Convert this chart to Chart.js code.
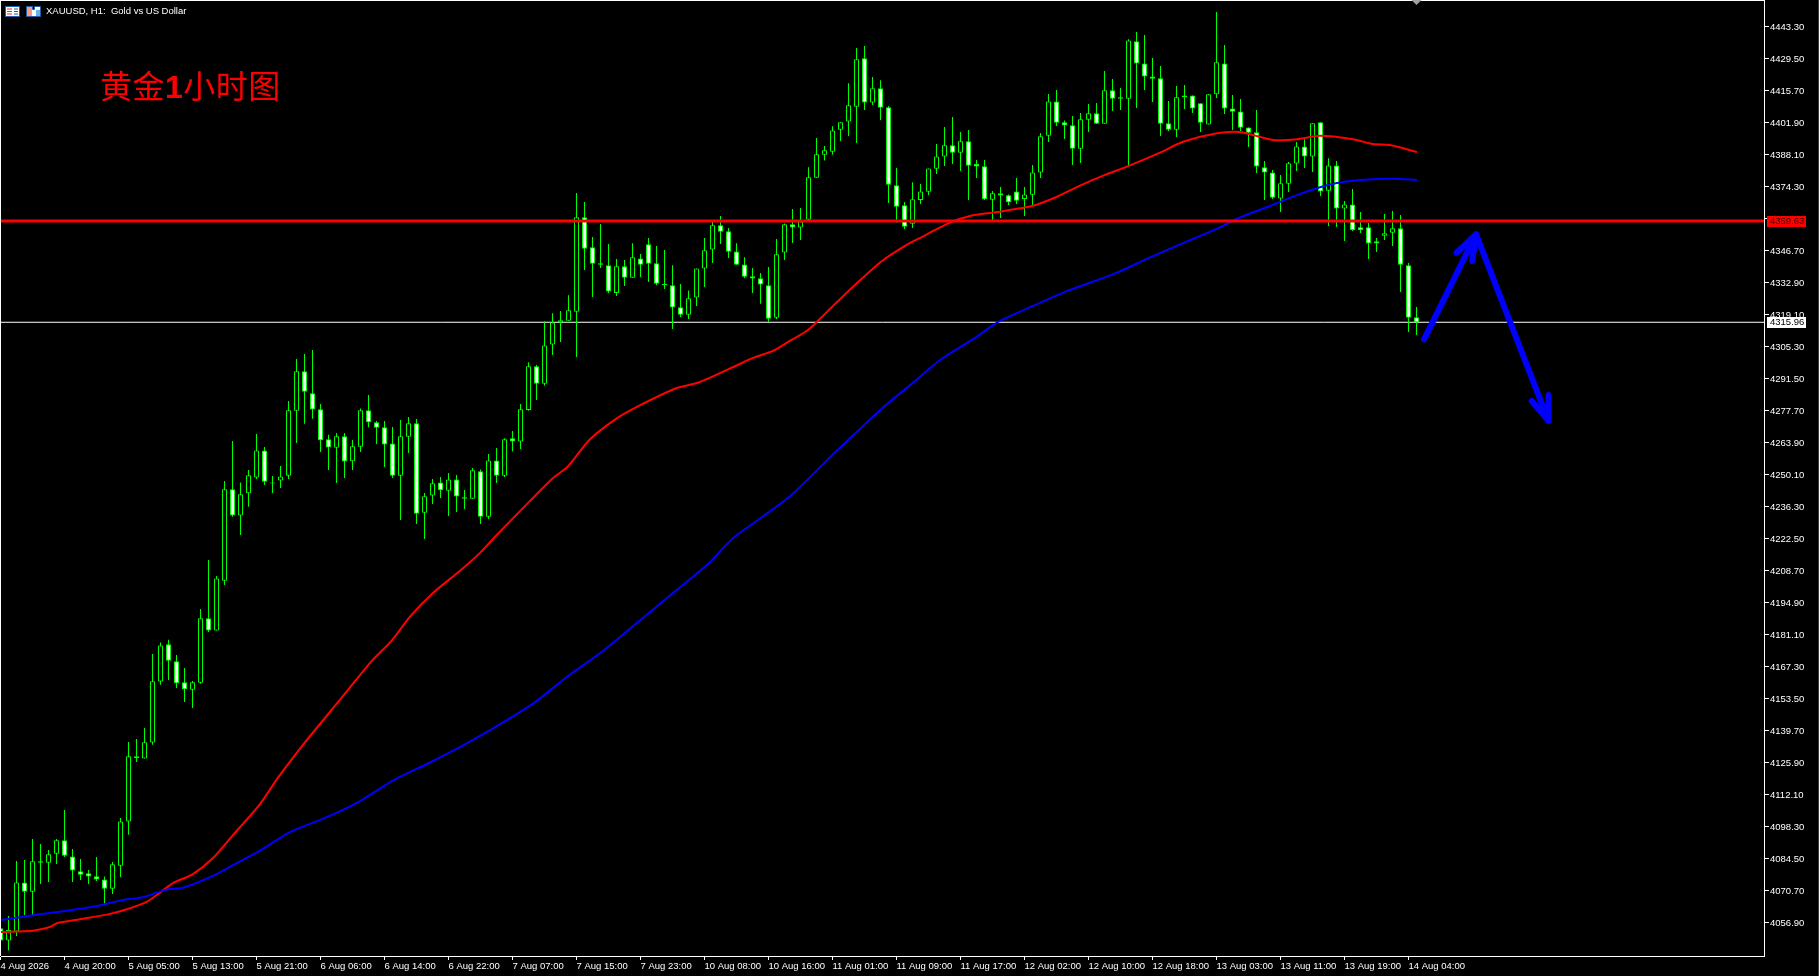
<!DOCTYPE html>
<html>
<head>
<meta charset="utf-8">
<title>XAUUSD H1</title>
<script src="https://cdn.jsdelivr.net/npm/chart.js@4/dist/chart.umd.min.js"></script>
<style>
  html, body { margin: 0; padding: 0; background: #000; overflow: hidden; }
  #wrap { position: relative; width: 1819px; height: 976px; }
  canvas { display: block; }
  #head { position: absolute; left: 46px; top: 5px; color: #fff; font: 9.5px/12px "Liberation Sans", sans-serif; white-space: pre; }
  #icons { position: absolute; left: 5px; top: 5px; }
  #note { position: absolute; left: 100px; top: 64px; color: #f00; font: 400 32px/40px "Noto Sans CJK SC", sans-serif; white-space: pre; letter-spacing: 0.5px; }
  #note b { font-family: "Liberation Sans", sans-serif; font-weight: 700; }
</style>
</head>
<body>
<div id="wrap">
  <canvas id="chart" width="1819" height="976"></canvas>
  <svg id="icons" width="38" height="13">
    <rect x="0.5" y="1.5" width="14" height="10" fill="#fff" stroke="#1f5fa8"/>
    <path d="M2 4h5M2 6.5h5M2 9h5" stroke="#e33"/><path d="M9 4h4M9 6.5h4M9 9h4" stroke="#1f5fa8"/>
    <path d="M21.5 1.5h6v3h2v-3h6v10h-14z" fill="#fff" stroke="#1f5fa8"/>
    <rect x="22" y="2" width="5" height="9" fill="#f59a8a"/><rect x="31" y="5" width="4" height="6" fill="#6ab0e8"/>
  </svg>
  <div id="head">XAUUSD, H1:  Gold vs US Dollar</div>
  <div id="note">黄金<b>1</b>小时图</div>
</div>
<script>
const opens = [4054.6,4049.3,4053.2,4074.4,4070.4,4083.5,4082.9,4086.8,4092.6,4085.6,
  4079.2,4078.3,4077.0,4075.7,4071.7,4081.6,4100.7,4128.8,4127.8,4134.7,
  4161.0,4177.1,4169.8,4160.7,4157.5,4160.5,4188.3,4183.0,4204.5,4243.9,
  4232.6,4242.2,4249.0,4260.7,4246.9,4247.7,4249.8,4277.8,4294.8,4285.3,
  4278.4,4265.5,4261.9,4266.8,4256.0,4262.3,4278.0,4272.8,4270.7,4263.7,
  4249.8,4266.6,4272.4,4233.8,4241.2,4246.9,4243.3,4248.2,4240.5,4239.9,
  4251.7,4232.1,4256.4,4249.8,4265.9,4264.5,4278.1,4297.0,4289.5,4306.4,
  4315.9,4316.6,4320.5,4361.2,4348.3,4341.4,4340.5,4328.6,4340.1,4335.2,
  4343.5,4349.6,4341.4,4332.5,4331.9,4322.4,4319.2,4326.6,4339.1,4347.3,
  4357.8,4355.2,4346.5,4340.9,4335.8,4334.9,4331.9,4317.9,4346.0,4358.2,
  4356.8,4360.2,4378.3,4388.2,4389.5,4399.0,4402.5,4408.9,4429.8,4410.7,
  4416.9,4408.7,4375.0,4366.4,4358.5,4368.7,4372.3,4382.2,4387.4,4392.3,
  4389.1,4394.0,4384.2,4383.2,4368.8,4371.6,4370.7,4372.4,4369.1,4371.0,
  4380.5,4396.4,4411.2,4402.2,4400.9,4390.8,4403.3,4406.1,4401.6,4416.0,
  4413.0,4412.4,4437.1,4427.6,4422.0,4421.2,4401.8,4399.0,4413.8,4413.8,
  4410.4,4401.2,4414.3,4427.6,4408.2,4406.9,4400.0,4397.9,4382.8,4380.6,
  4369.3,4375.7,4384.4,4391.8,4387.4,4402.2,4372.7,4383.6,4365.0,4366.8,
  4356.9,4356.9,4350.9,4353.3,4354.6,4356.5,4340.5,4318.1];
const highs = [4056.0,4059.9,4083.6,4084.1,4093.1,4091.0,4088.4,4093.1,4105.6,4088.8,
  4084.5,4079.8,4085.4,4076.9,4083.2,4102.2,4134.9,4136.2,4141.0,4172.9,
  4177.9,4179.0,4172.5,4166.9,4161.3,4192.3,4213.4,4206.5,4247.5,4264.8,
  4246.9,4252.3,4267.8,4262.2,4249.7,4254.0,4282.0,4300.1,4302.3,4304.0,
  4280.7,4267.4,4268.2,4268.2,4265.2,4278.8,4284.6,4273.4,4273.4,4270.8,
  4273.8,4275.1,4274.2,4242.3,4248.4,4249.2,4251.0,4250.1,4243.6,4253.1,
  4252.5,4259.2,4261.7,4265.9,4269.1,4280.7,4298.7,4297.5,4316.4,4319.8,
  4320.8,4327.6,4371.7,4367.8,4352.7,4358.3,4349.7,4343.2,4342.8,4350.0,
  4345.4,4352.3,4348.9,4347.1,4340.6,4332.5,4329.7,4339.2,4352.3,4359.3,
  4361.8,4356.6,4350.0,4344.0,4339.4,4337.2,4339.8,4351.9,4358.6,4364.8,
  4365.2,4382.8,4395.4,4392.0,4400.5,4402.2,4419.0,4434.2,4435.1,4421.7,
  4420.3,4409.2,4382.5,4367.8,4376.3,4375.6,4382.3,4392.8,4400.2,4404.5,
  4398.0,4398.9,4385.9,4385.9,4372.6,4374.3,4371.1,4378.2,4374.3,4383.8,
  4397.6,4414.4,4416.1,4403.0,4404.9,4406.2,4410.1,4410.5,4424.3,4420.9,
  4417.0,4438.0,4441.1,4439.9,4429.9,4426.5,4411.4,4417.9,4418.3,4413.8,
  4410.4,4414.3,4449.8,4435.5,4414.0,4412.2,4400.0,4407.5,4385.5,4381.6,
  4379.5,4385.1,4393.7,4394.9,4401.8,4402.2,4386.7,4385.5,4368.3,4373.4,
  4363.5,4358.8,4352.3,4362.6,4363.9,4362.2,4341.5,4322.5];
const lows = [4047.0,4045.0,4051.3,4060.3,4060.3,4073.7,4074.6,4082.3,4085.4,4074.6,
  4075.4,4073.7,4075.0,4065.1,4069.4,4076.7,4094.9,4126.3,4127.8,4133.8,
  4159.6,4161.7,4158.2,4152.2,4149.6,4160.1,4182.4,4183.0,4202.7,4232.1,
  4224.2,4236.4,4248.4,4245.8,4242.3,4244.5,4248.4,4263.9,4272.2,4274.3,
  4260.0,4252.3,4246.6,4248.8,4252.3,4260.0,4270.7,4263.5,4253.5,4248.8,
  4230.7,4259.6,4229.0,4222.5,4237.6,4240.2,4232.4,4234.1,4235.4,4239.9,
  4229.0,4231.1,4246.6,4249.2,4260.2,4261.3,4277.8,4282.4,4288.6,4301.8,
  4307.4,4316.6,4301.0,4338.5,4326.9,4339.4,4328.6,4327.3,4331.6,4335.2,
  4335.5,4333.3,4331.9,4330.3,4313.1,4318.2,4317.4,4323.0,4331.2,4341.5,
  4349.7,4343.7,4340.8,4335.0,4328.6,4323.9,4316.1,4317.4,4342.8,4350.1,
  4351.4,4360.0,4378.3,4385.7,4388.2,4394.1,4396.3,4393.3,4407.5,4409.7,
  4403.2,4367.4,4359.0,4356.2,4356.6,4367.0,4370.7,4379.9,4383.4,4384.2,
  4381.2,4368.7,4378.2,4368.7,4360.1,4360.9,4366.5,4367.0,4361.8,4366.5,
  4378.2,4393.7,4400.6,4395.0,4383.8,4384.6,4398.0,4401.6,4401.6,4407.1,
  4407.5,4383.4,4408.4,4416.1,4411.0,4396.3,4398.4,4395.9,4407.9,4406.2,
  4398.0,4401.2,4412.7,4405.8,4398.9,4398.5,4391.5,4380.3,4368.7,4369.1,
  4363.5,4372.1,4381.2,4382.5,4380.8,4370.4,4357.5,4357.0,4351.0,4355.3,
  4354.5,4343.2,4346.3,4351.4,4348.9,4329.0,4311.8,4310.5];
const closes = [4049.3,4053.9,4074.4,4070.4,4083.5,4082.9,4086.5,4092.6,4085.9,4079.5,
  4077.7,4076.9,4075.6,4071.7,4082.2,4100.7,4128.8,4127.9,4134.8,4161.1,
  4176.6,4170.0,4160.3,4157.7,4160.7,4188.3,4183.0,4205.5,4243.9,4232.6,
  4241.8,4250.0,4260.7,4247.2,4246.4,4249.5,4278.0,4294.8,4286.0,4278.3,
  4265.1,4262.0,4266.8,4255.9,4262.5,4278.0,4272.8,4270.5,4263.2,4249.8,
  4266.8,4272.4,4233.4,4240.9,4246.5,4243.5,4248.2,4240.8,4239.9,4252.1,
  4232.1,4256.4,4249.8,4265.5,4264.5,4278.4,4297.0,4289.5,4305.9,4315.9,
  4316.8,4321.1,4361.2,4347.7,4341.2,4340.8,4329.2,4340.1,4335.2,4344.0,
  4340.8,4341.2,4332.6,4332.0,4322.3,4319.2,4326.3,4339.2,4347.0,4357.8,
  4355.0,4346.4,4340.8,4335.6,4334.8,4332.2,4317.5,4345.3,4358.2,4356.8,
  4359.4,4378.5,4388.4,4390.1,4398.7,4402.2,4409.5,4429.4,4410.7,4416.9,
  4408.5,4375.3,4365.8,4357.2,4369.0,4372.4,4382.3,4387.5,4392.3,4389.1,
  4394.0,4383.5,4383.1,4369.0,4371.6,4370.6,4367.7,4368.4,4371.1,4380.6,
  4396.2,4411.2,4402.0,4400.8,4390.8,4403.5,4406.1,4401.6,4416.0,4412.4,
  4412.4,4437.5,4427.6,4421.9,4421.0,4401.6,4399.0,4413.0,4413.0,4408.1,
  4402.0,4414.3,4428.1,4408.1,4406.8,4399.9,4397.7,4383.1,4380.5,4369.7,
  4375.9,4384.5,4391.8,4387.4,4401.8,4372.4,4383.6,4365.0,4366.8,4355.8,
  4355.8,4349.9,4349.9,4354.3,4356.5,4340.8,4317.9,4315.96];

const redIdx = [0,4.06,6.19,7.06,9.94,13.31,15.81,18.31,19.94,21.56,24.06,26.56,29.06,32.44,34.69,37.69,40.56,43.44,46.31,48.96,
  51.19,54.06,57.44,59.94,61.94,66.1,69.03,70.9,73.6,76.94,79.85,84.44,87.35,91.94,94.06,96.56,98.69,100.94,104.31,107.19,
  110.19,113.06,114.69,118.69,121.19,124.56,129.06,132.06,134.94,138.06,140.81,144.94,147.81,152.06,154.94,159.06,162.06,164.94,169.06,171.56,173.69,177.06];
const redMa = [4053.0,4053.6,4055.2,4056.8,4058.5,4060.5,4062.8,4066.1,4070.0,4074.1,4078.0,4084.9,4094.8,4108.2,4119.6,4133.2,4145.3,4157.4,4169.5,4178.9,
  4189.0,4199.2,4208.8,4216.5,4223.9,4238.6,4248.7,4253.7,4265.2,4274.3,4280.0,4287.5,4290.1,4297.2,4300.6,4303.6,4308.0,4312.6,4323.8,4333.3,
  4342.4,4348.9,4351.9,4358.9,4361.8,4363.5,4366.2,4370.1,4374.9,4379.5,4383.1,4389.1,4393.8,4397.5,4398.0,4394.6,4394.9,4396.4,4394.9,4392.8,4392.4,4389.4];
const blueIdx = [0,4.06,8.31,11.56,15.81,17.81,20.81,22.81,26.56,29.06,32.44,36.19,40.56,44.94,49.19,53.56,57.94,62.31,66.69,70.94,
  75.31,79.69,84.06,88.44,90.69,91.94,98.56,104.31,110.19,114.56,117.44,121.81,124.69,129.06,133.31,139.19,143.56,149.06,152.44,154.94,
  158.69,162.06,164.94,167.06,169.94,174.06,177.06];
const blueMa = [4058.2,4060.2,4062.2,4063.9,4067.1,4068.0,4071.4,4072.1,4077.2,4081.9,4088.1,4096.1,4102.2,4109.5,4118.6,4125.9,4133.7,4142.3,4151.8,4163.4,
  4174.2,4186.7,4199.2,4211.7,4219.9,4223.9,4240.6,4259.8,4278.8,4291.3,4299.7,4309.2,4316.1,4323.0,4329.4,4336.8,4343.7,4351.9,4356.9,4361.2,
  4366.1,4370.8,4374.2,4376.0,4377.3,4377.9,4377.3];

const arrowIdx = [177.94,184.44,182.0,184.44,183.97,184.44,193.5,191.4,193.5,193.5];
const arrowPrice = [4308.6,4353.9,4346.0,4353.9,4342.4,4353.9,4273.5,4282.0,4273.5,4284.6];

const resistance = 4359.63;
const lastPrice = 4315.96;

const timeTicks = ['4 Aug 2026','4 Aug 20:00','5 Aug 05:00','5 Aug 13:00','5 Aug 21:00','6 Aug 06:00','6 Aug 14:00','6 Aug 22:00',
  '7 Aug 07:00','7 Aug 15:00','7 Aug 23:00','10 Aug 08:00','10 Aug 16:00','11 Aug 01:00','11 Aug 09:00','11 Aug 17:00',
  '12 Aug 02:00','12 Aug 10:00','12 Aug 18:00','13 Aug 03:00','13 Aug 11:00','13 Aug 19:00','14 Aug 04:00'];
const priceTicks = [4443.30,4429.50,4415.70,4401.90,4388.10,4374.30,4360.50,4346.70,4332.90,4319.10,4305.30,4291.50,4277.70,4263.90,
  4250.10,4236.30,4222.50,4208.70,4194.90,4181.10,4167.30,4153.50,4139.70,4125.90,4112.10,4098.30,4084.50,4070.70,4056.90];

const barsPerTick = 8;
const xMin = 0.0625, xMax = 220.4375;
const yMin = 4042.66, yMax = 4454.51;
const tickFont = { family: '"Liberation Sans", sans-serif', size: 9.5 };
const green = '#00ff00';

const xy = (xs, ys) => xs.map((x, i) => ({ x: x, y: ys[i] }));

// the library reserves room for half of the end labels, the chart has none
const noPadding = s => { s.paddingLeft = s.paddingRight = s.paddingTop = s.paddingBottom = 0; };

const frame = {
  id: 'frame',
  afterDraw(chart) {
    const ctx = chart.ctx;
    const a = chart.chartArea;
    const yS = chart.scales.y;
    const xS = chart.scales.x;
    ctx.save();
    ctx.fillStyle = '#fff';
    ctx.fillRect(0, 0, a.right + 1, 1);
    ctx.fillRect(0, 0, 1, a.bottom);
    ctx.fillStyle = '#404040';
    ctx.fillRect(1818, 0, 1, 976);
    // shift marker
    const mx = xS.getPixelForValue(opens.length - 1);
    ctx.fillStyle = '#a0a0a0';
    ctx.beginPath();
    ctx.moveTo(mx - 5, 0);
    ctx.lineTo(mx + 5, 0);
    ctx.lineTo(mx, 5);
    ctx.fill();
    // price tags
    const tags = [[resistance, '#ff0000', '#400000'], [lastPrice, '#ffffff', '#000000']];
    ctx.font = '9.5px "Liberation Sans", sans-serif';
    ctx.textBaseline = 'middle';
    tags.forEach(t => {
      const py = Math.round(yS.getPixelForValue(t[0]));
      ctx.fillStyle = t[1];
      ctx.fillRect(a.right + 3, py - 5, 39, 11);
      ctx.fillStyle = t[2];
      ctx.fillText(t[0].toFixed(2), a.right + 6, py + 0.5);
    });
    ctx.restore();
  }
};

new Chart(document.getElementById('chart'), {
  type: 'bar',
  data: {
    datasets: [
      {
        type: 'line', data: xy([xMin, xMax], [lastPrice, lastPrice]), borderColor: '#ffffff', borderWidth: 1,
        pointRadius: 0, order: 7
      },
      {
        data: xy(opens.map((_, i) => i), lows.map((l, i) => [l, highs[i]])),
        backgroundColor: green, borderWidth: 0, maxBarThickness: 1, grouped: false, order: 6
      },
      {
        data: xy(opens.map((_, i) => i), opens.map((o, i) => [o, closes[i]])),
        backgroundColor: opens.map((o, i) => closes[i] > o ? '#000000' : '#ffffff'),
        borderColor: green, borderWidth: 1, borderSkipped: false, maxBarThickness: 5, grouped: false, order: 5
      },
      { type: 'line', data: xy(redIdx, redMa), borderColor: '#ff0000', borderWidth: 2, tension: 0.25, pointRadius: 0, order: 4 },
      { type: 'line', data: xy(blueIdx, blueMa), borderColor: '#0000ff', borderWidth: 2, tension: 0.25, pointRadius: 0, order: 3 },
      {
        type: 'line', data: xy([xMin, xMax], [resistance, resistance]), borderColor: '#ff0000', borderWidth: 3,
        pointRadius: 0, order: 2
      },
      {
        type: 'line', data: xy(arrowIdx, arrowPrice), borderColor: '#0000ff', borderWidth: 6,
        borderCapStyle: 'round', borderJoinStyle: 'round', pointRadius: 0, order: 1
      }
    ]
  },
  options: {
    responsive: false,
    animation: false,
    layout: { padding: { left: 1, top: 1, right: 0, bottom: 0 } },
    plugins: { legend: { display: false }, tooltip: { enabled: false } },
    scales: {
      x: {
        type: 'linear', min: xMin, max: xMax, offset: false,
        grid: { drawOnChartArea: false, offset: false, color: '#fff', tickLength: 4 },
        border: { color: '#fff' },
        afterBuildTicks: s => { s.ticks = timeTicks.map((_, i) => ({ value: i * barsPerTick })); },
        afterFit: s => { s.height = 20; noPadding(s); },
        ticks: {
          autoSkip: false, maxRotation: 0, align: 'start', color: '#fff', font: tickFont, padding: 1,
          callback: (v, i) => timeTicks[i]
        }
      },
      y: {
        position: 'right', min: yMin, max: yMax,
        grid: { drawOnChartArea: false, color: '#fff', tickLength: 5 },
        border: { color: '#fff' },
        afterBuildTicks: s => { s.ticks = priceTicks.map(v => ({ value: v })); },
        afterFit: s => { s.width = 55; noPadding(s); },
        ticks: {
          autoSkip: false, color: '#fff', font: tickFont, padding: 1,
          callback: v => v.toFixed(2)
        }
      }
    }
  },
  plugins: [frame]
});
</script>
</body>
</html>
